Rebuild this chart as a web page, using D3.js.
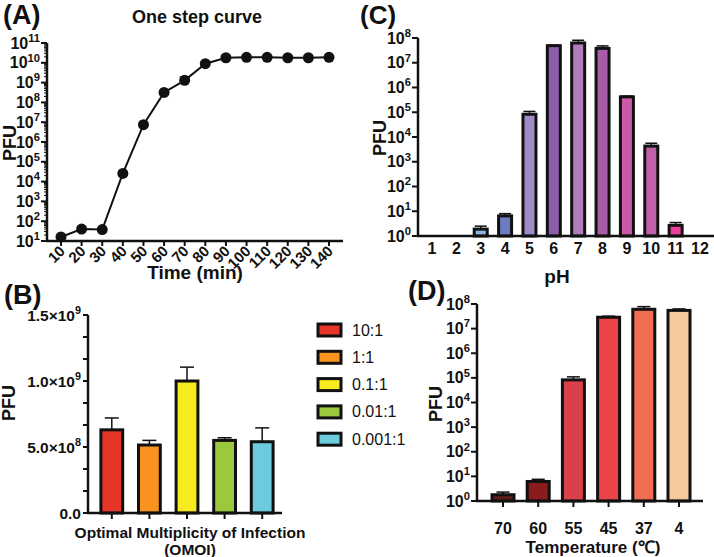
<!DOCTYPE html>
<html><head><meta charset="utf-8">
<script src="https://cdn.jsdelivr.net/npm/d3@7"></script>
<style>
body{margin:0;background:#fff;}
text{font-family:"Liberation Sans",Arial,Helvetica,sans-serif;}
</style></head>
<body><svg id="c" width="714" height="557"></svg>
<script>
// ---------- DATA ----------
// (A) one step curve
const timeMin = [10,20,30,40,50,60,70,80,90,100,110,120,130,140];
const pfuTime = [16,40,38,2.6e4,7.5e6,3.2e8,1.3e9,9e9,1.8e10,1.9e10,1.9e10,1.8e10,1.8e10,1.9e10];
const pfuTimeErr = [0,0,0,0,0,0.4e8,0.6e9,0,0,0,0,0,0,0];
const logTicksA = [1,2,3,4,5,6,7,8,9,10,11];
// (B) OMOI
const moiLabels = ["10:1","1:1","0.1:1","0.01:1","0.001:1"];
const moiValues = [6.3e8,5.15e8,1.0e9,5.5e8,5.4e8];
const moiErr = [0.9e8,0.35e8,1.05e8,0.2e8,1.05e8];
const moiColors = ["#e8352a","#f7931e","#f7ea1e","#9bc83c","#6ccbdc"];
const ticksB = [0,5e8,1e9,1.5e9];
const tickLabelsB = [["0.0",""],["5.0×10","8"],["1.0×10","9"],["1.5×10","9"]];
// (C) pH
const pH = [1,2,3,4,5,6,7,8,9,10,11,12];
const pfuPH = [null,null,1.9,6.5,8.3e4,4.9e7,6.3e7,3.8e7,4.2e5,4.3e3,2.7,null];
const pfuPHErr = [0,0,0.6,1.5,2.5e4,0.2e7,1.8e7,1.0e7,0.3e5,1.3e3,0.8,0];
const pHColors = ["#888","#888","#8ab4dc","#6d7cc0","#a08bc6","#8c5ea8","#b07cbb","#a85ca8","#cc58a8","#c060a8","#e8409a","#888"];
const logTicksC = [0,1,2,3,4,5,6,7,8];
// (D) temperature
const tempLabels = ["70","60","55","45","37","4"];
const pfuTemp = [1.8,6.2,8.3e4,2.9e7,6.1e7,5.5e7];
const pfuTempErr = [0.5,1.4,2.7e4,0.3e7,1.7e7,0.8e7];
const tempColors = ["#5e1c16","#8a1c1e","#d9404a","#ea4448","#ee6e4f","#f6c89e"];
const logTicksD = [0,1,2,3,4,5,6,7,8];

// ---------- HELPERS ----------
const svg = d3.select("#c");
function supLabel(g, x, y, base, exp, size, anchor){
  const t = g.append("text").attr("x",x).attr("y",y).attr("text-anchor",anchor||"end")
    .attr("font-weight","bold").attr("font-size",size).attr("fill","#111");
  t.append("tspan").text(base);
  if(exp!=="") t.append("tspan").attr("dy",-size*0.42).attr("font-size",size*0.7).text(exp);
  return t;
}
function txt(x,y,s,size,opts){
  opts=opts||{};
  const t = svg.append("text").attr("x",x).attr("y",y).attr("text-anchor",opts.anchor||"middle")
    .attr("font-weight",opts.weight||"bold").attr("font-size",size).attr("fill","#111").text(s);
  if(opts.rotate!==undefined) t.attr("transform",`rotate(${opts.rotate},${x},${y})`);
  return t;
}
function logAxis(scale, x, exps, minor){
  const g = svg.append("g");
  const [r0,r1] = scale.range();
  g.append("line").attr("x1",x).attr("x2",x).attr("y1",r0+1).attr("y2",r1).attr("stroke","#111").attr("stroke-width",2.5);
  exps.forEach(e=>{
    const y = scale(Math.pow(10,e));
    g.append("line").attr("x1",x-6).attr("x2",x).attr("y1",y).attr("y2",y).attr("stroke","#111").attr("stroke-width",2);
    supLabel(g, x-7, y+5.5, "10", String(e), 16);
    if(minor && e<exps[exps.length-1]){
      for(let m=2;m<10;m++){
        const ym = scale(m*Math.pow(10,e));
        g.append("line").attr("x1",x-3).attr("x2",x).attr("y1",ym).attr("y2",ym).attr("stroke","#111").attr("stroke-width",1);
      }
    }
  });
  return g;
}
function errBar(x, y0, y1, cap, w){
  svg.append("line").attr("x1",x).attr("x2",x).attr("y1",y0).attr("y2",y1).attr("stroke","#111").attr("stroke-width",w||1.5);
  svg.append("line").attr("x1",x-cap/2).attr("x2",x+cap/2).attr("y1",y1).attr("y2",y1).attr("stroke","#111").attr("stroke-width",w||1.5);
}

// ---------- (A) ----------
const xA = d3.scaleLinear().domain([10,140]).range([61,329]);
const yA = d3.scaleLog().domain([10,1e11]).range([241,43]);
logAxis(yA, 47, logTicksA, true);
svg.append("line").attr("x1",46).attr("x2",343).attr("y1",241).attr("y2",241).attr("stroke","#111").attr("stroke-width",2.5);
timeMin.forEach(t=>{
  const x = xA(t);
  svg.append("line").attr("x1",x).attr("x2",x).attr("y1",241).attr("y2",246).attr("stroke","#111").attr("stroke-width",2);
  txt(x+5, 252, String(t), 15, {anchor:"end", rotate:-45});
});
svg.append("path").datum(timeMin.map((t,i)=>[xA(t),yA(pfuTime[i])]))
  .attr("d", d3.line()).attr("fill","none").attr("stroke","#111").attr("stroke-width",2);
timeMin.forEach((t,i)=>{
  if(pfuTimeErr[i]>0) errBar(xA(t), yA(pfuTime[i]), yA(pfuTime[i]+pfuTimeErr[i]), 10, 1.5);
  svg.append("circle").attr("cx",xA(t)).attr("cy",yA(pfuTime[i])).attr("r",5.5).attr("fill","#111");
});
txt(197, 23, "One step curve", 18);
txt(3, 24, "(A)", 27, {anchor:"start"});
txt(195, 279, "Time (min)", 19);
txt(16, 143, "PFU", 18, {rotate:-90});

// ---------- (C) ----------
const xC = d3.scaleLinear().domain([1,12]).range([432,700]);
const yC = d3.scaleLog().domain([1,1e8]).range([236,38]);
pH.forEach((p,i)=>{
  const v = pfuPH[i];
  txt(xC(p), 254, String(p), 16);
  if(v===null) return;
  const y = yC(v);
  if(pfuPHErr[i]>0) errBar(xC(p), y, yC(v+pfuPHErr[i]), 12, 1.5);
  svg.append("rect").attr("x",xC(p)-6.5).attr("y",y).attr("width",13).attr("height",236-y)
    .attr("fill",pHColors[i]).attr("stroke","#111").attr("stroke-width",3);
});
logAxis(yC, 418, logTicksC, false);
svg.append("line").attr("x1",417).attr("x2",714).attr("y1",236).attr("y2",236).attr("stroke","#111").attr("stroke-width",2.5);
txt(360, 24, "(C)", 26, {anchor:"start"});
txt(557, 283, "pH", 19);
txt(386, 138, "PFU", 18, {rotate:-90});

// ---------- (B) ----------
const xB = d3.scaleBand().domain(moiLabels).range([93,281]).paddingInner(0.42).paddingOuter(0.21);
const yB = d3.scaleLinear().domain([0,1.5e9]).range([513,315]);
moiLabels.forEach((l,i)=>{
  const cx = xB(l)+xB.bandwidth()/2;
  const y = yB(moiValues[i]);
  errBar(cx, y, yB(moiValues[i]+moiErr[i]), 14, 1.5);
  svg.append("rect").attr("x",xB(l)).attr("y",y).attr("width",xB.bandwidth()).attr("height",513-y)
    .attr("fill",moiColors[i]).attr("stroke","#111").attr("stroke-width",3);
  svg.append("line").attr("x1",cx).attr("x2",cx).attr("y1",513).attr("y2",519).attr("stroke","#111").attr("stroke-width",2);
});
svg.append("line").attr("x1",88).attr("x2",88).attr("y1",514).attr("y2",315).attr("stroke","#111").attr("stroke-width",2.5);
svg.append("line").attr("x1",87).attr("x2",282).attr("y1",513).attr("y2",513).attr("stroke","#111").attr("stroke-width",2.5);
d3.range(0,1.5e9+1,5e8/3).forEach(v=>{
  const y=yB(v);
  svg.append("line").attr("x1",83).attr("x2",88).attr("y1",y).attr("y2",y).attr("stroke","#111").attr("stroke-width",2);
});
const gB = svg.append("g");
ticksB.forEach((v,i)=>supLabel(gB, 81, yB(v)+5.5, tickLabelsB[i][0], tickLabelsB[i][1], 15.5));
moiLabels.forEach((l,i)=>{
  const y = 330 + i*27.3;
  svg.append("rect").attr("x",318).attr("y",y-6).attr("width",23).attr("height",12)
    .attr("fill",moiColors[i]).attr("stroke","#111").attr("stroke-width",3);
  txt(352, y+5.5, l, 16, {anchor:"start", weight:"normal"});
});
txt(4, 304, "(B)", 27, {anchor:"start"});
txt(190, 538, "Optimal Multiplicity of Infection", 15.5);
txt(190, 555, "(OMOI)", 15.5);
txt(15, 403, "PFU", 18, {rotate:-90});

// ---------- (D) ----------
const xD = d3.scalePoint().domain(tempLabels).range([503,679]);
const yD = d3.scaleLog().domain([1,1e8]).range([501,304]);
tempLabels.forEach((l,i)=>{
  const cx = xD(l);
  const v = pfuTemp[i], y = yD(v);
  errBar(cx, y, yD(v+pfuTempErr[i]), 13, 1.5);
  svg.append("rect").attr("x",cx-11).attr("y",y).attr("width",22).attr("height",501-y)
    .attr("fill",tempColors[i]).attr("stroke","#111").attr("stroke-width",3);
  svg.append("line").attr("x1",cx).attr("x2",cx).attr("y1",501).attr("y2",507).attr("stroke","#111").attr("stroke-width",2);
  txt(cx, 534, l, 16);
});
logAxis(yD, 477, logTicksD, false);
svg.append("line").attr("x1",476).attr("x2",703).attr("y1",501).attr("y2",501).attr("stroke","#111").attr("stroke-width",2.5);
txt(408, 300, "(D)", 27, {anchor:"start"});
txt(593, 553, "Temperature (℃)", 17);
txt(442, 404, "PFU", 18, {rotate:-90});
</script></body></html>
